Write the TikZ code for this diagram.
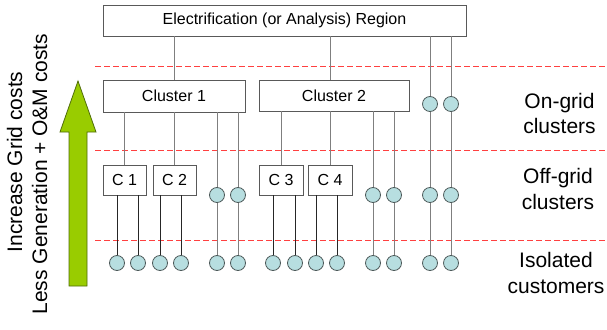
\documentclass[tikz,border=0pt]{standalone}
\usepackage{fontspec}
\setmainfont{Liberation Sans}
\definecolor{arrowgreen}{HTML}{99CC00}
\definecolor{arrowedge}{HTML}{4F6B0A}
\definecolor{dotfill}{HTML}{B7DEE0}
\definecolor{dotedge}{HTML}{4D5A5A}
\definecolor{boxedge}{HTML}{595959}
\definecolor{linkgray}{HTML}{7F7F7F}
\definecolor{linkdark}{HTML}{262626}
\definecolor{dashred}{HTML}{FF4040}
\begin{document}
\begin{tikzpicture}[x=1pt,y=-1pt,
  box/.style={draw=boxedge, line width=0.8pt, fill=white, inner sep=0pt, font=\fontsize{16}{19}\selectfont},
  dot/.style={circle, draw=dotedge, line width=0.8pt, fill=dotfill, minimum size=15pt, inner sep=0pt},
  link/.style={draw=linkgray, line width=1pt},
  linkd/.style={draw=linkdark, line width=0.9pt},
  sep/.style={draw=dashred, line width=0.8pt, dash pattern=on 6pt off 3pt},
  lab/.style={font=\fontsize{21}{25}\selectfont, anchor=base, inner sep=0pt},
  side/.style={font=\fontsize{21}{25}\selectfont, anchor=base, inner sep=0pt, rotate=90}]
\useasboundingbox (0,0) rectangle (607,329);

% separators
\coordinate (s1a) at (95,66);  \coordinate (s1b) at (607,66);
\coordinate (s2a) at (95,150); \coordinate (s2b) at (607,150);
\coordinate (s3a) at (95,240); \coordinate (s3b) at (607,240);
\draw[sep] (s1a) -- (s1b);
\draw[sep] (s2a) -- (s2b);
\draw[sep] (s3a) -- (s3b);

% boxes
\node[box, minimum width=363pt, minimum height=31pt] (R) at (284.5,20.5) {Electrification (or Analysis) Region};
\node[box, minimum width=142pt, minimum height=32pt] (K1) at (174,96) {Cluster 1};
\node[box, minimum width=150pt, minimum height=31pt] (K2) at (334,95.5) {Cluster 2};
\node[box, minimum width=43pt, minimum height=30pt] (C1) at (124.5,180) {C 1};
\node[box, minimum width=43pt, minimum height=30pt] (C2) at (174.5,180) {C 2};
\node[box, minimum width=44pt, minimum height=30pt] (C3) at (281,180) {C 3};
\node[box, minimum width=44pt, minimum height=30pt] (C4) at (330,180) {C 4};

% on-grid dots
\node[dot] (g1) at (430,104) {};
\node[dot] (g2) at (451,104) {};
% off-grid dots
\node[dot] (f1) at (217,195) {};
\node[dot] (f2) at (238,195) {};
\node[dot] (f3) at (373,195) {};
\node[dot] (f4) at (394,195) {};
\node[dot] (f5) at (430,195) {};
\node[dot] (f6) at (451,195) {};
% isolated dots
\foreach \n/\x in {1/117,2/138,3/160,4/181,5/217,6/238,7/273,8/295,9/316,10/337,11/373,12/394,13/430,14/451}
  \node[dot] (i\n) at (\x,263) {};

% connectors from region
\draw[link] (R.south -| K1) -- (K1.north);
\draw[link] (R.south -| C4) -- (K2.north -| C4);
\draw[link] (R.south -| g1) -- (g1);
\draw[link] (R.south -| g2) -- (g2);
\draw[link] (g1) -- (f5);
\draw[link] (g2) -- (f6);
\draw[link] (f5) -- (i13);
\draw[link] (f6) -- (i14);
% from clusters
\draw[link] (K1.south -| C1) -- (C1.north);
\draw[link] (K1.south -| C2) -- (C2.north);
\draw[link] (K1.south -| f1) -- (f1);
\draw[link] (K1.south -| f2) -- (f2);
\draw[link] (f1) -- (i5);
\draw[link] (f2) -- (i6);
\draw[link] (K2.south -| C3) -- (C3.north);
\draw[link] (K2.south -| C4) -- (C4.north);
\draw[link] (K2.south -| f3) -- (f3);
\draw[link] (K2.south -| f4) -- (f4);
\draw[link] (f3) -- (i11);
\draw[link] (f4) -- (i12);
% from C boxes
\draw[linkd] (C1.south -| i1) -- (i1);
\draw[linkd] (C1.south -| i2) -- (i2);
\draw[linkd] (C2.south -| i3) -- (i3);
\draw[linkd] (C2.south -| i4) -- (i4);
\draw[linkd] (C3.south -| i7) -- (i7);
\draw[linkd] (C3.south -| i8) -- (i8);
\draw[linkd] (C4.south -| i9) -- (i9);
\draw[linkd] (C4.south -| i10) -- (i10);

% green arrow
\draw[fill=arrowgreen, draw=arrowedge, line width=0.8pt, line join=miter]
  (78,81) -- (96,132) -- (87,132) -- (87,286) -- (69,286) -- (69,132) -- (60,132) -- cycle;

% side text
\node[side] (t1) at (22,162) {Increase Grid costs};
\node[side] (t2) at (47,174) {Less Generation + O\&M costs};

% right labels
\node[lab] (l1) at (559.5,108) {On-grid};
\node[lab] (l2) at (559.5,133) {clusters};
\node[lab] (l3) at (558,183) {Off-grid};
\node[lab] (l4) at (558,209) {clusters};
\node[lab] (l5) at (556,267) {Isolated};
\node[lab] (l6) at (556,293) {customers};
\end{tikzpicture}
\end{document}
